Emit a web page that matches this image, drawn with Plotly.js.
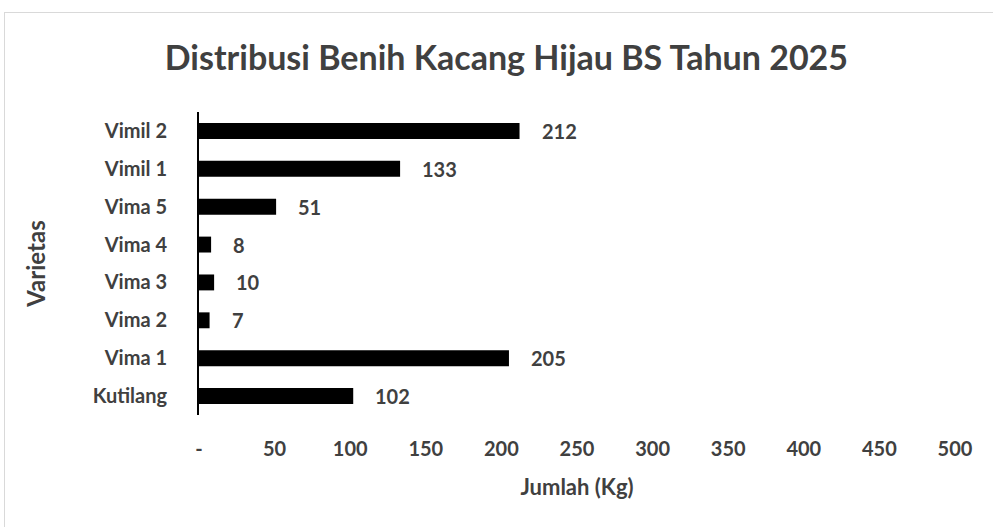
<!DOCTYPE html>
<html>
<head>
<meta charset="utf-8">
<script src="https://cdn.plot.ly/plotly-3.0.1.min.js"></script>
<style>
  body { margin: 0; background: #fff; }
  #frame { position: absolute; left: 4px; top: 12px; width: 1000px; height: 530px; border: 1px solid #d9d9d9; }
  #chart { position: absolute; left: 0; top: 0; width: 993px; height: 527px; }
</style>
</head>
<body>
<div id="frame"></div>
<div id="chart"></div>
<script>
var varietas = ['Kutilang', 'Vima 1', 'Vima 2', 'Vima 3', 'Vima 4', 'Vima 5', 'Vimil 1', 'Vimil 2'];
var jumlah = [102, 205, 7, 10, 8, 51, 133, 212];
var tickVals = [0, 50, 100, 150, 200, 250, 300, 350, 400, 450, 500];
var tickText = ['-', '50', '100', '150', '200', '250', '300', '350', '400', '450', '500'];

var labelFont = {family: 'Lato, sans-serif', size: 20, color: '#404040', weight: 'bold'};

var trace = {
  type: 'bar',
  orientation: 'h',
  y: varietas,
  x: jumlah,
  width: 0.42,
  marker: {color: '#000000'},
  hoverinfo: 'x+y'
};

var notes = varietas.map(function (v, i) {
  return {
    x: jumlah[i], y: v, text: String(jumlah[i]),
    xanchor: 'left', xshift: 20, showarrow: false,
    font: labelFont
  };
});

var layout = {
  width: 993,
  height: 527,
  paper_bgcolor: 'rgba(0,0,0,0)',
  plot_bgcolor: 'rgba(0,0,0,0)',
  margin: {l: 199, r: 38, t: 112, b: 112},
  showlegend: false,
  title: {
    text: '<b>Distribusi Benih Kacang Hijau BS Tahun 2025</b>',
    font: {family: 'Lato, sans-serif', size: 34, color: '#404040'},
    x: 0.51, xanchor: 'center', y: 0.89, yanchor: 'middle'
  },
  xaxis: {
    range: [0, 500],
    tickvals: tickVals,
    ticktext: tickText,
    showgrid: false,
    zeroline: false,
    showline: false,
    ticks: '',
    ticklabelstandoff: 20,
    tickfont: labelFont,
    title: {text: '<b>Jumlah (Kg)</b>', font: {family: 'Lato, sans-serif', size: 22, color: '#404040'}, standoff: 20}
  },
  yaxis: {
    showgrid: false,
    zeroline: false,
    showline: true,
    linecolor: '#000000',
    linewidth: 2,
    ticks: '',
    ticklabelstandoff: 26,
    tickfont: labelFont,
    title: {text: '<b>Varietas</b>', font: {family: 'Lato, sans-serif', size: 24, color: '#404040'}, standoff: 40}
  },
  annotations: notes
};

Plotly.newPlot('chart', [trace], layout, {displayModeBar: false});
</script>
</body>
</html>
